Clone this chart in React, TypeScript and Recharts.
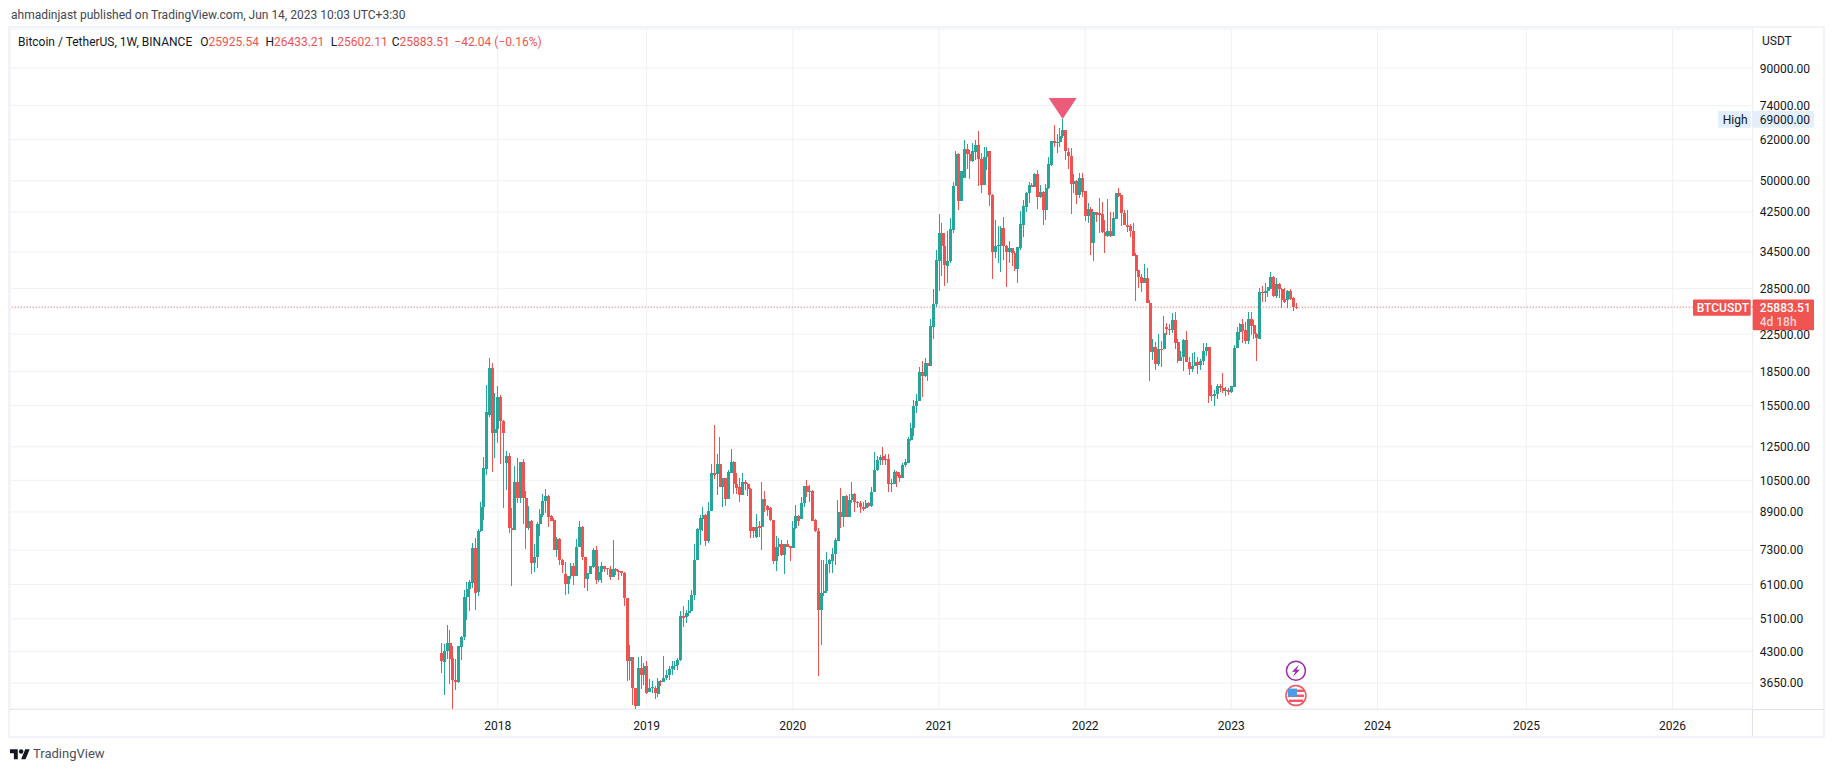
import React from "react";
import {
  ComposedChart,
  Bar,
  XAxis,
  YAxis,
  CartesianGrid,
  ReferenceLine,
  ReferenceDot
} from "recharts";

const FONT = "Roboto, sans-serif";
const UP = "#26a69a";
const DOWN = "#ef5350";
const TEXT = "#131722";

// weekly BTCUSDT candles, first one is the week of Aug 14 2017
const opens = [
  4270,4070,4310,4500,4155,3715,3665,4400,4630,5700,
  5960,6140,7370,5850,8050,9110,11150,14750,18810,13450,
  13710,16230,14300,11510,11920,8190,8100,10390,9590,11550,
  9560,8180,8500,6815,7030,8370,8780,9410,9680,8720,
  8530,7305,7735,6935,6450,6120,6360,6720,6360,7410,
  8240,7030,6290,6440,6680,7305,6250,6500,6720,6640,
  6610,6330,6610,6530,6530,6470,5680,4085,4185,3555,
  3235,3950,3800,3995,3475,3555,3555,3450,3695,3665,
  3745,3810,3930,3980,4000,4110,5180,5140,5255,5300,
  5780,6935,8110,8600,8770,7630,8950,10890,10830,11420,
  10160,10640,9530,10920,11550,10300,10120,9700,10400,10290,
  10040,8250,7830,8280,8210,9530,9180,9075,8540,6900,
  7410,7540,7120,7540,7435,7360,8190,8720,8570,9315,
  10200,9880,9930,8540,8040,5345,5830,5880,6780,6900,
  7140,7660,8890,8690,9680,8690,9480,9770,9370,9315,
  9125,9075,9315,9180,9900,11050,11640,11920,11700,11700,
  10290,10320,10960,10800,10650,11360,11510,12950,13750,15460,
  15900,18460,18070,19310,19050,23380,26300,33000,38040,35660,
  32120,33000,38700,48680,57500,45090,50840,58920,57400,55410,
  58120,60140,55950,48920,56500,58320,46440,34570,35600,35670,
  39180,35660,34500,35170,34270,31580,35290,39720,43700,46850,
  48950,48500,51810,45880,47260,42950,48080,54390,61530,60790,
  61210,63160,65040,58000,57000,49280,49880,46440,50700,47420,
  41630,43130,36230,42510,42360,41990,38300,37510,38430,37510,
  41000,46930,46440,42360,39720,39580,38500,33980,31420,30250,
  29410,30050,26500,20520,21000,19240,20830,20760,23380,23100,
  23000,24210,21580,19500,20000,21810,19480,18770,19050,19480,
  19170,19580,20580,20990,16400,16280,16460,17150,17000,16760,
  16840,16620,17100,20890,22700,23690,22980,21690,24350,23580,
  22500,21920,28030,27880,28130,28410,30300,27430,29200,28410,
  27000,26870,28130,27100,25925.54
];

const highs = [
  4490,4480,4950,4820,4420,4145,4435,4670,5930,6170,
  6230,7590,7760,8150,9365,11880,17250,19820,19310,16510,
  17160,16370,14400,12260,12100,9075,11320,11800,11550,11730,
  9930,9200,8540,7540,8450,9040,9780,10040,9730,8770,
  8620,7830,7790,6950,6870,6380,6815,6815,7730,8500,
  8280,7055,6470,6720,7370,7435,6700,6850,6730,6650,
  6700,7695,6650,6585,6550,6500,5690,4460,4190,3560,
  4170,4210,4050,4085,3735,3680,3590,3755,3715,4210,
  3915,3990,4085,4085,4160,5300,5440,5345,5630,5930,
  7540,8190,8770,9110,8810,9350,11430,14000,12040,13180,
  10610,10640,11080,12360,11600,10930,10650,10890,10520,10340,
  10060,8250,8810,8470,10390,9930,9220,9110,8540,7860,
  7760,7670,7540,7695,7470,8510,9240,8770,9645,10200,
  10520,10250,9985,8570,8190,6935,6935,7240,6960,7370,
  7760,9480,10070,9680,9730,9770,10390,9810,9445,9400,
  9365,9480,9350,10130,12190,11900,11980,12470,12030,12030,
  10570,11080,11020,10980,11470,11730,13140,14130,15950,16420,
  18980,19550,19820,19370,24290,28450,34870,42060,40060,38040,
  38500,41100,49780,58550,57700,52620,61850,60580,58720,60790,
  61850,64820,57700,59740,59740,58380,46600,40770,39510,39510,
  41490,35800,36530,35290,34690,35480,42800,45250,47250,49780,
  49350,51990,52900,48930,47420,49100,56700,61530,66880,63710,
  65730,69000,65160,59260,59260,51810,50220,51990,51990,47500,
  44470,43550,42510,42580,45810,44860,40770,45480,42580,42580,
  46930,48080,46500,42950,42950,39850,40060,34270,31420,30730,
  32420,31800,26870,21920,21580,22500,21700,24730,23790,23700,
  25070,25290,21890,20580,21890,22900,20000,20410,20520,20000,
  19790,21430,21500,21000,17250,16800,17350,17380,18400,17100,
  16950,17130,21240,23380,23870,24350,24000,25290,25290,24210,
  22620,28570,28920,29310,28810,31040,30500,30090,29310,28560,
  28560,28310,28410,27340,26433.21
];

const lows = [
  3850,3425,4135,3630,2817,3525,3650,4120,4575,5060,
  5300,5985,5345,5730,8010,8540,10800,14570,10985,11820,
  12770,11430,9075,9985,7970,6035,8100,9315,9315,8370,
  7350,8110,6450,6525,6640,7870,8690,8845,8210,8470,
  7305,7055,6760,6470,5780,5810,6280,6090,6360,7400,
  6935,5985,5900,6440,6640,6120,6170,6160,6500,6420,
  6230,6330,6420,6250,6380,5440,3680,3715,3250,3156,
  3235,3545,3620,3450,3475,3465,3365,3390,3590,3665,
  3700,3700,3810,3915,3915,4090,4880,4990,5165,5300,
  5630,6935,7500,8040,7470,7565,8930,10560,9730,10160,
  9110,9180,9530,10920,9770,9770,9350,9700,9985,9680,
  7790,7760,7760,7830,7305,8920,8720,8500,6780,6550,
  7080,7080,6450,7400,6900,7360,8150,8280,8570,9110,
  9645,9350,8470,8010,3782,4460,5730,5830,6490,6490,
  6760,7630,8190,8250,8690,8690,9315,8920,9075,8845,
  8955,9045,9155,9155,9900,11020,11380,11380,11380,9850,
  9900,10290,10160,10430,10650,11240,11510,12900,13220,14880,
  15900,16230,18010,17640,19050,21880,25950,28210,30460,28960,
  29310,32530,38170,48680,42950,45090,50840,53180,50480,55240,
  55730,48670,46990,48920,52900,43850,29980,33500,32640,31150,
  33100,28810,32640,32080,31260,29410,34900,37380,42580,44470,
  48400,48500,43100,45650,39720,40770,48010,54120,59740,57910,
  59540,62400,55730,53180,42060,46850,44320,45650,46040,40620,
  40060,33970,32990,40420,38170,38040,34390,37380,37250,37510,
  40910,46040,39510,39650,38370,37380,33860,26780,28640,28070,
  29410,26410,17640,19650,18650,19070,18980,20760,22380,22380,
  22620,20830,19310,19500,18590,19400,18200,18480,19000,18220,
  18650,19140,20100,15670,15860,15480,16070,16620,16560,16310,
  16380,16510,17100,20890,21810,21430,21360,21360,22380,21920,
  19590,21920,26550,26640,27250,28410,27340,27100,27200,25820,
  26500,25820,26870,25400,25602.11
];

const closes = [
  4090,4310,4500,4135,3700,3665,4420,4640,5710,5950,
  6170,7370,5830,8070,9125,11180,14980,18810,13450,13730,
  16230,14300,13450,11920,8190,8100,10390,9590,11550,9560,
  8180,8500,6815,7030,8370,8810,9410,9680,8690,8510,
  7305,7735,6935,6760,6120,6380,6720,6360,7410,8240,
  7020,6290,6470,6700,7305,6250,6500,6720,6600,6600,
  6330,6610,6530,6500,6470,5680,4085,4185,3550,3235,
  3950,3800,3995,3465,3555,3565,3465,3695,3665,3745,
  3810,3930,3980,4015,4120,5165,5120,5255,5320,5780,
  6935,8140,8620,8760,7630,8950,10890,10800,11420,10160,
  10610,9530,10960,11550,10290,10100,9700,10400,10290,10020,
  8040,8040,8250,8200,9530,9180,9000,8540,6900,7410,
  7540,7120,7540,7400,7360,8190,8720,8510,9315,10200,
  9900,9950,8510,8040,5345,5830,5880,6780,6935,7140,
  7695,8890,8690,9680,8690,9480,9770,9370,9315,9110,
  9060,9315,9200,9900,11080,11670,11880,11640,11640,10290,
  10340,10960,10740,10650,11380,11530,12990,13770,15460,15900,
  18460,18070,19310,19050,23460,26260,33100,38040,35660,32250,
  33000,38830,48680,57500,45090,52620,58920,57400,55520,58320,
  60140,55950,48920,56500,58320,46440,34570,35600,35790,39180,
  35660,34570,35290,34270,31580,35360,39850,43870,47000,48950,
  48500,51810,45880,47260,42950,48080,54580,61530,60790,61210,
  63160,65040,58420,57000,49280,49880,46440,50700,47260,41630,
  43130,36230,42510,41860,41790,38240,37510,38430,37510,41130,
  46930,46200,42210,39650,39380,38500,33860,31310,30250,29410,
  30050,26500,20520,21000,19240,20830,20760,22620,23080,23000,
  24210,21500,19500,20000,21810,19400,18770,19050,19480,19170,
  19580,20580,20990,16310,16310,16440,17120,17000,16760,16840,
  16620,17130,20950,22700,23690,22900,21690,24350,23460,22500,
  22000,27980,27880,28130,28710,30300,27480,29200,28410,26870,
  26640,28130,27000,25925,25883.51
];

const priceTicks = [
  90000, 74000, 62000, 50000, 42500, 34500, 28500, 22500, 18500, 15500,
  12500, 10500, 8900, 7300, 6100, 5100, 4300, 3650
];
const yearWeeks = [20, 73, 125, 177, 229, 281, 333, 386, 438];
const yearLabels = ["2018", "2019", "2020", "2021", "2022", "2023", "2024", "2025", "2026"];

const LEADING_WEEKS = 153;
const TOTAL_WEEKS = 620;
const HIGH_WEEK = 221;
const HIGH_PRICE = 69000;
const LAST_PRICE = 25883.51;
const LAST_WEEK = 304;
const EARNINGS_PRICE = 3889;
const FLAG_PRICE = 3418;

const rows = Array.from({ length: TOTAL_WEEKS }, (_, n) => {
  const week = n - LEADING_WEEKS;
  if (week < 0 || week >= opens.length) return { week, wick: null, body: null, up: true };
  return {
    week,
    wick: [lows[week], highs[week]],
    body: [Math.min(opens[week], closes[week]), Math.max(opens[week], closes[week])],
    up: closes[week] >= opens[week]
  };
});

const WickShape = (props: any) => {
  const { x, y, width, height, payload } = props;
  if (!payload.wick) return null;
  return (
    <rect
      x={x + width / 2 - 0.5}
      y={y}
      width={1}
      height={height}
      fill={payload.up ? UP : DOWN}
      shapeRendering="crispEdges"
    />
  );
};

const BodyShape = (props: any) => {
  const { x, y, width, height, payload } = props;
  if (!payload.body) return null;
  return (
    <rect
      x={x + width / 2 - 1.5}
      y={y}
      width={3}
      height={Math.max(height, 1)}
      fill={payload.up ? UP : DOWN}
      shapeRendering="crispEdges"
    />
  );
};

const HighMarker = ({ cx, cy }: any) => (
  <path d={`M${cx - 14} ${cy - 21}H${cx + 14}L${cx} ${cy}Z`} fill="#ea5c7a" />
);

// tags sit over the price scale, cx is the last bar so offsets go out to the axis
const axisOffset = 1752.7;

const HighTag = ({ cx, cy }: any) => {
  const dx = axisOffset - cx;
  return (
    <g fontFamily={FONT} fontSize={12} fill={TEXT}>
      <rect x={cx + dx - 34.7} y={cy - 8} width={32.7} height={16.7} fill="#e3effd" />
      <rect x={cx + dx} y={cy - 8} width={61.3} height={16.7} fill="#e3effd" />
      <text x={cx + dx - 30} y={cy + 4.5}>High</text>
      <text x={cx + dx + 7} y={cy + 4.5}>69000.00</text>
    </g>
  );
};

const LastTag = ({ cx, cy }: any) => {
  const dx = axisOffset - cx;
  return (
    <g fontFamily={FONT} fontSize={12}>
      <rect x={cx + dx - 59.7} y={cy - 7.7} width={57.7} height={16.4} rx={1} fill="#f05350" />
      <rect x={cx + dx} y={cy - 7.7} width={61.3} height={30.7} rx={1} fill="#f05350" />
      <text x={cx + dx - 56} y={cy + 4.5} fill="#fff" fontWeight={500}>BTCUSDT</text>
      <text x={cx + dx + 7} y={cy + 4.5} fill="#fff" fontWeight={500}>25883.51</text>
      <text x={cx + dx + 7} y={cy + 19} fill="#fbd5d5" fontWeight={500}>4d 18h</text>
    </g>
  );
};

const EarningsIcon = ({ cx, cy }: any) => (
  <g>
    <circle cx={cx} cy={cy} r={9.5} fill="#fff" stroke="#9c27b0" strokeWidth={1.5} />
    <path
      d={`M${cx + 3} ${cy - 6}L${cx - 4} ${cy + 1}H${cx - 0.5}L${cx - 3} ${cy + 6}L${cx + 4} ${cy - 1}H${cx + 0.5}Z`}
      fill="#9c27b0"
    />
  </g>
);

const FlagIcon = ({ cx, cy }: any) => (
  <g>
    <circle cx={cx} cy={cy} r={10} fill="#fff" stroke="#f7525f" strokeWidth={1.5} />
    <rect x={cx - 8} y={cy - 6} width={16} height={2.4} fill="#f7525f" />
    <rect x={cx - 8} y={cy - 1} width={16} height={2.4} fill="#f7525f" />
    <rect x={cx - 7} y={cy + 4} width={14} height={2.4} fill="#f7525f" />
    <rect x={cx - 8} y={cy - 7} width={9} height={8} fill="#4a9be8" />
  </g>
);

const PriceTick = (props: any) => {
  const { x, y, payload } = props;
  return (
    <text x={x} y={y + 4.5} fill={TEXT} fontSize={12} fontFamily={FONT}>
      {payload.value.toFixed(2)}
    </text>
  );
};

const absolute = (left: number, top: number, extra: React.CSSProperties = {}): React.CSSProperties => ({
  position: "absolute",
  left,
  top,
  fontFamily: FONT,
  fontSize: 12,
  lineHeight: "14px",
  whiteSpace: "nowrap",
  color: TEXT,
  ...extra
});

export default function App() {
  return (
    <div style={{ position: "absolute", left: 0, top: 0, width: 1834, height: 772, background: "#fff", overflow: "hidden" }}>
      <div style={{ ...absolute(11, 8), color: "#434651" }}>
        ahmadinjast published on TradingView.com, Jun 14, 2023 10:03 UTC+3:30
      </div>

      <div style={{ position: "absolute", left: 8, top: 26, width: 1813, height: 708, border: "2px solid #f0f3fa" }} />
      <div style={{ position: "absolute", left: 10, top: 709, width: 1814, height: 1, background: "#e0e3eb" }} />
      <div style={{ position: "absolute", left: 1752, top: 29, width: 1, height: 707, background: "#e0e3eb" }} />

      <div style={{ position: "absolute", left: 0, top: 0 }}>
        <ComposedChart
          width={1834}
          height={772}
          data={rows}
          margin={{ top: 29, right: 10, bottom: 0, left: 10 }}
          barCategoryGap={0}
          barGap="-100%"
        >
          <CartesianGrid stroke="#f0f1f4" strokeWidth={1} />
          <XAxis
            dataKey="week"
            type="category"
            ticks={yearWeeks}
            interval={0}
            height={63}
            axisLine={false}
            tickLine={false}
            tickMargin={6}
            tick={{ fill: TEXT, fontSize: 12, fontFamily: FONT }}
            tickFormatter={(w: number) => yearLabels[yearWeeks.indexOf(w)]}
          />
          <YAxis
            orientation="right"
            type="number"
            scale="log"
            domain={[3187, 110300]}
            allowDataOverflow
            ticks={priceTicks}
            interval={0}
            width={71.3}
            axisLine={false}
            tickLine={false}
            tick={<PriceTick />}
            tickMargin={1}
          />
          <ReferenceLine y={LAST_PRICE} stroke={DOWN} strokeDasharray="1 2" />
          <Bar dataKey="wick" shape={WickShape} isAnimationActive={false} />
          <Bar dataKey="body" shape={BodyShape} isAnimationActive={false} />
          <ReferenceDot x={HIGH_WEEK} y={HIGH_PRICE} shape={HighMarker} ifOverflow="visible" />
          <ReferenceDot x={LAST_WEEK} y={EARNINGS_PRICE} shape={EarningsIcon} ifOverflow="visible" />
          <ReferenceDot x={LAST_WEEK} y={FLAG_PRICE} shape={FlagIcon} ifOverflow="visible" />
          <ReferenceDot x={LAST_WEEK} y={HIGH_PRICE} shape={HighTag} ifOverflow="visible" />
          <ReferenceDot x={LAST_WEEK} y={LAST_PRICE} shape={LastTag} ifOverflow="visible" />
        </ComposedChart>
      </div>

      <div style={absolute(18, 35)}>
        Bitcoin / TetherUS, 1W, BINANCE
        <span style={{ marginLeft: 8 }}>O</span><span style={{ color: DOWN }}>25925.54</span>
        <span style={{ marginLeft: 6.5 }}>H</span><span style={{ color: DOWN }}>26433.21</span>
        <span style={{ marginLeft: 6.5 }}>L</span><span style={{ color: DOWN }}>25602.11</span>
        <span style={{ marginLeft: 4 }}>C</span><span style={{ color: DOWN }}>25883.51</span>
        <span style={{ marginLeft: 4.5, color: DOWN }}>−42.04 (−0.16%)</span>
      </div>
      <div style={absolute(1762, 34)}>USDT</div>

      <svg style={{ position: "absolute", left: 10, top: 747 }} width={20} height={14} viewBox="0 0 36 25">
        <path d="M14 22H7V11H0V4h14v18zM28 22h-8l7.5-18h8L28 22z" fill={TEXT} />
        <circle cx={20} cy={8} r={4} fill={TEXT} />
      </svg>
      <div style={{ ...absolute(33, 747), fontSize: 13, color: "#4a4e5a" }}>TradingView</div>
    </div>
  );
}
